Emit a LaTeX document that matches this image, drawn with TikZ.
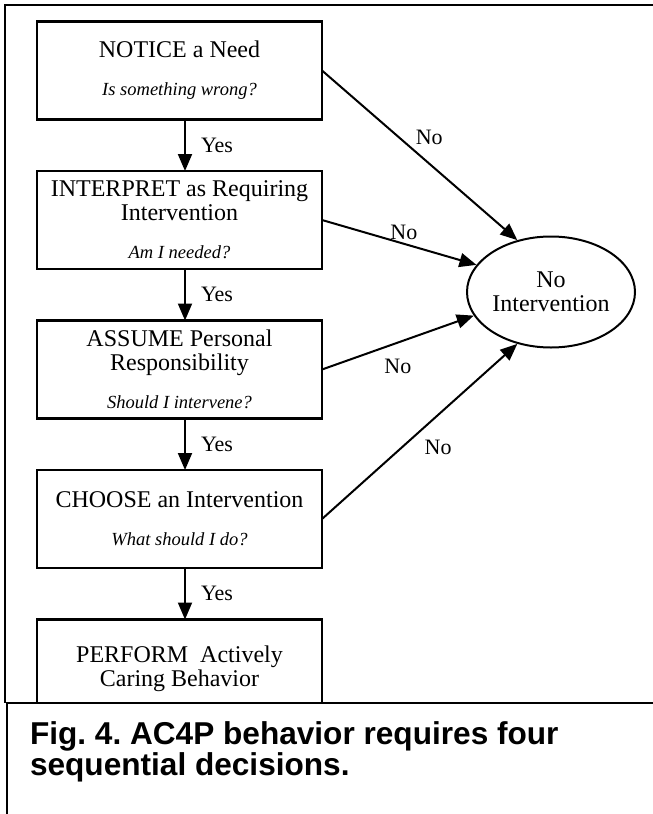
\documentclass[tikz,border=0pt]{standalone}
\usepackage{fontspec}
\setmainfont{Liberation Serif}
\newfontfamily\capfont{Liberation Sans}
\usetikzlibrary{arrows.meta, shapes.geometric, positioning}
\frenchspacing

\begin{document}
\begin{tikzpicture}[
        x=1pt, y=-1pt,
        >={Triangle[length=17pt, width=14pt]},
        line width=2pt,
        node distance=51.5pt,
        stage/.style={draw, rectangle, line width=2.5pt, outer sep=0pt, inner sep=0pt,
            minimum width=285pt, minimum height=98pt, align=center,
            font=\fontsize{24}{24}\selectfont},
        answer/.style={font=\fontsize{22}{24}\selectfont, inner sep=3pt}
    ]

        % === FRAME ===
        \useasboundingbox (0,0) rectangle (653,814);
        \draw (653,5) -- (5,5) -- (5,703);

        % === DECISION BOXES ===
        \def\ask#1{\\[14pt]{\fontsize{18.5}{24}\selectfont\itshape #1}}

        \node[stage] (notice) at (179.5,70.5) {NOTICE a Need\ask{Is something wrong?}};
        \node[stage, below=of notice] (interpret) {INTERPRET as Requiring\\Intervention\ask{Am I needed?}};
        \node[stage, below=of interpret] (assume) {ASSUME Personal\\Responsibility\ask{Should I intervene?}};
        \node[stage, below=of assume] (choose) {CHOOSE an Intervention\ask{What should I do?}};
        \node[stage, below=of choose] (perform) {PERFORM\ \ Actively\\Caring Behavior};

        % === OUTCOME ===
        \node[draw, ellipse, minimum width=168pt, minimum height=111pt,
            inner xsep=-5pt, inner ysep=0pt, align=center,
            font=\fontsize{24}{24}\selectfont] (none) at (551,292) {No\\Intervention};

        % === YES ARROWS ===
        \foreach \a/\b [count=\i] in {notice/interpret, interpret/assume, assume/choose, choose/perform}
            \draw[->] ([xshift=5.5pt]\a.south) -- node[answer, right=12pt] (yes\i) {Yes} ([xshift=5.5pt]\b.north);

        % === NO ARROWS ===
        \draw[->] (notice.east) -- node[answer, pos=0.46, above right] (no1) {No} (none.123);
        \draw[->] (interpret.east) -- node[answer, pos=0.53, above] (no2) {No} (none.160);
        \draw[->] (assume.east) -- node[answer, pos=0.5, below=13pt] (no3) {No} (none.197);
        \draw[->] (choose.east) -- node[answer, pos=0.505, below right, yshift=-6pt] (no4) {No} (none.237);

        % === CAPTION ===
        \fill[white] (7,703) rectangle (653,814);
        \draw (653,703) -- (7,703) -- (7,814);
        \node[anchor=north west, align=left, inner sep=0pt,
            font=\capfont\bfseries\fontsize{31.6}{29}\selectfont] (caption) at (29,721)
            {Fig. 4. AC4P behavior requires four\\sequential decisions.};

\end{tikzpicture}
\end{document}
